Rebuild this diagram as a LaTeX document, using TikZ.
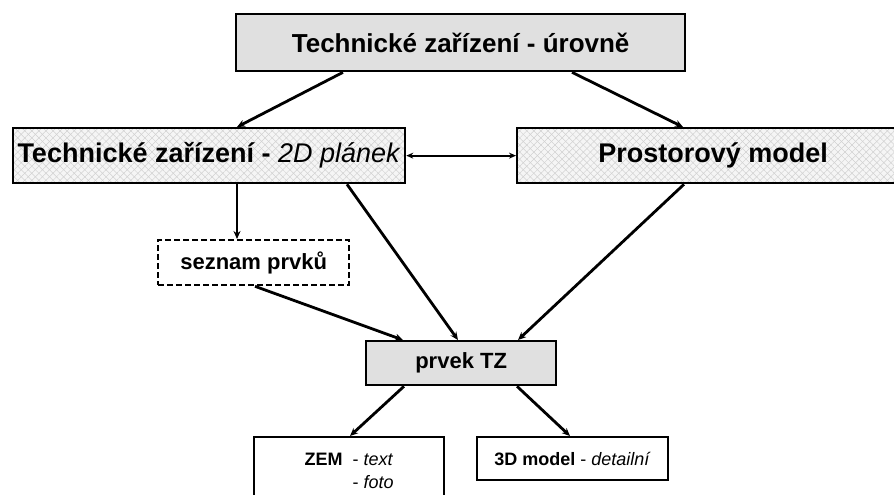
\documentclass[tikz,border=0pt]{standalone}
\usepackage{fontspec}
\setmainfont{Liberation Sans}
\usetikzlibrary{arrows.meta,patterns.meta}
\begin{document}
\begin{tikzpicture}[x=1pt,y=-1pt,
  box/.style={draw=black,line width=2.3pt,rectangle,inner sep=0pt,anchor=north west,align=center},
  graybox/.style={box,fill=black!12},
  hatchbox/.style={box,
    preaction={fill=black!4},
    preaction={pattern={Lines[angle=45,distance=5pt,line width=0.5pt]},pattern color=black!18},
    preaction={pattern={Lines[angle=-45,distance=5pt,line width=0.5pt]},pattern color=black!18}},
  dashbox/.style={box,dashed,dash pattern=on 6pt off 3pt},
  arr/.style={line width=2.8pt,-{Stealth[length=8pt,width=7pt]}},
  darr/.style={line width=2.2pt,{Stealth[length=7pt,width=6pt]}-{Stealth[length=7pt,width=6pt]}}
]
\useasboundingbox (0,0) rectangle (894,495);
\fill[white] (0,0) rectangle (894,495);

\node[graybox,minimum width=449pt,minimum height=57pt,font=\fontsize{26}{30}\selectfont\bfseries] (top) at (235,13) {Technické zařízení - úrovně};
\node[hatchbox,minimum width=392pt,minimum height=55pt,font=\fontsize{27}{31}\selectfont] (td) at (12,127) {\textbf{Technické zařízení -} \textit{2D plánek}};
\node[hatchbox,minimum width=392pt,minimum height=55pt,font=\fontsize{27}{31}\selectfont\bfseries] (pm) at (516,127) {Prostorový model};
\node[dashbox,minimum width=191pt,minimum height=45pt,font=\fontsize{22}{26}\selectfont\bfseries] (sz) at (157,239) {seznam prvků};
\node[graybox,minimum width=190pt,minimum height=44pt,font=\fontsize{22}{26}\selectfont\bfseries] (pr) at (365,340) {prvek TZ};
\node[box,minimum width=190pt,minimum height=70pt,font=\fontsize{18}{23}\selectfont] (zem) at (253,436) {%
  \begin{tabular}{@{}l@{\hspace{0.55em}}l@{}}\textbf{ZEM} & - \textit{text}\\ & - \textit{foto}\end{tabular}};
\node[box,minimum width=191pt,minimum height=43pt,font=\fontsize{18}{22}\selectfont] (d3) at (476,436) {\textbf{3D model} - \textit{detailní}};

\draw[arr] ([xshift=108pt]top.south west) -- ([xshift=225pt]td.north west);
\draw[arr] ([xshift=337pt]top.south west) -- ([xshift=167pt]pm.north west);
\draw[darr] (td.east) -- (pm.west);
\draw[arr] ([xshift=225pt]td.south west) -- ([xshift=80pt]sz.north west);
\draw[arr] ([xshift=335pt]td.south west) -- ([xshift=93pt]pr.north west);
\draw[arr] ([xshift=168pt]pm.south west) -- ([xshift=153pt]pr.north west);
\draw[arr] ([xshift=98pt]sz.south west) -- ([xshift=38pt]pr.north west);
\draw[arr] ([xshift=39pt]pr.south west) -- ([xshift=97pt]zem.north west);
\draw[arr] ([xshift=152pt]pr.south west) -- ([xshift=94pt]d3.north west);
\end{tikzpicture}
\end{document}
